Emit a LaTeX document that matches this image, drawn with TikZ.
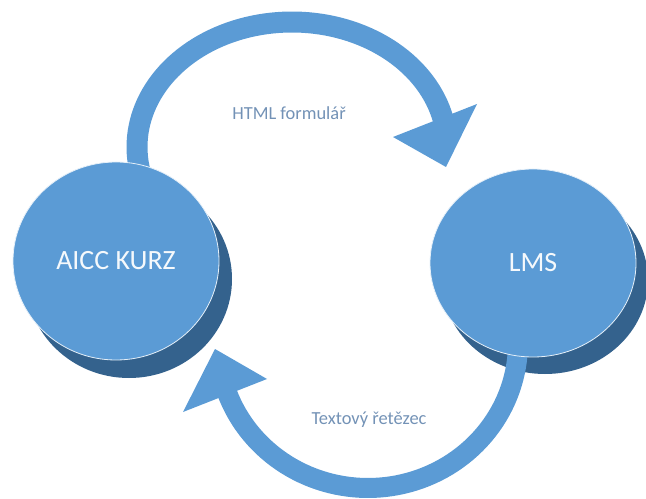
\documentclass[tikz,border=0pt]{standalone}
\usepackage{fontspec}
\usetikzlibrary{shapes.geometric}
\setmainfont{Carlito}
\definecolor{discblue}{HTML}{5B9BD5}
\definecolor{discshade}{HTML}{34628D}
\definecolor{labelblue}{HTML}{7392B6}
\begin{document}
\begin{tikzpicture}[x=1bp,y=-1bp,
  disc/.style={ellipse, fill=discblue, draw=white!85!discblue, line width=0.8bp, inner sep=0pt},
  shade/.style={fill=discshade},
  band/.style={draw=discblue, line width=21bp, line cap=butt},
  head/.style={fill=discblue},
  disctext/.style={text=white!94!discblue, font=\fontsize{28}{30}\selectfont},
  flowlabel/.style={text=labelblue, font=\fontsize{18.5}{20}\selectfont}]
  \useasboundingbox (0,0) rectangle (646,499);

  % disc shadows
  \fill[shade] (129,279) ellipse [x radius=103, y radius=99];
  \fill[shade] (545,280) ellipse [x radius=103, y radius=94];

  % upper arc: AICC KURZ -> LMS
  \draw[band] plot[domain=166:347, samples=80] ({292+155*cos(\x)},{147+125*sin(\x)})
       -- ++(2,8) coordinate (ux);
  \coordinate (ua) at (393,137);
  \coordinate (ub) at (477,104);
  \coordinate (ut) at (446,167);
  \fill[head] (ua) -- (ub) -- (ut) -- cycle;

  % lower arc: LMS -> AICC KURZ
  \draw[band, line width=20bp] plot[domain=0:160, samples=70] ({368+150*cos(\x)},{343+145*sin(\x)})
       -- ++(-3,-8) coordinate (lx);
  \coordinate (la) at (183,412);
  \coordinate (lb) at (267,379);
  \coordinate (lt) at (215,349);
  \fill[head] (la) -- (lb) -- (lt) -- cycle;

  % discs
  \node[disc, minimum width=206bp, minimum height=198bp] (kurz) at (116,261) {};
  \node[disc, minimum width=206bp, minimum height=188bp] (lms) at (533,263) {};
  \node[disctext] at (kurz) {AICC KURZ};
  \node[disctext] at (lms) {LMS};

  % flow labels
  \node[flowlabel] (html) at (289,113) {HTML formulář};
  \node[flowlabel] (text) at (369,420) {Textový řetězec};
\end{tikzpicture}
\end{document}
